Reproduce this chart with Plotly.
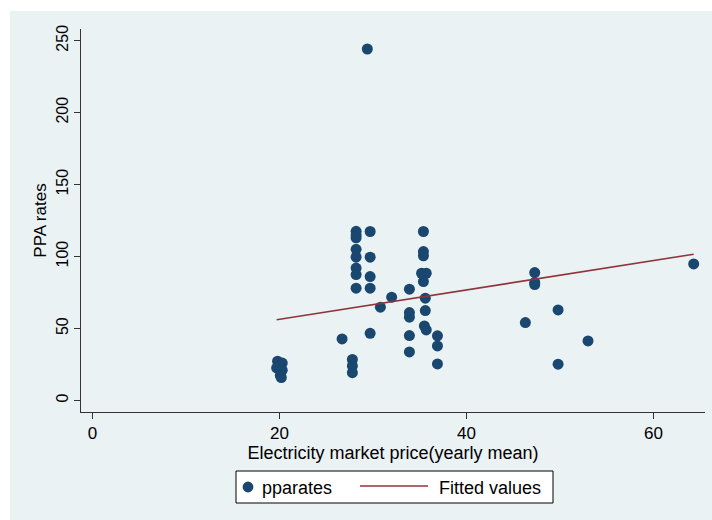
import plotly.graph_objects as go

# Yearly mean electricity market price vs. PPA rate, one point per contract
market_price = [
    19.8, 20.3, 19.7, 20.3, 20.1, 20.2,
    27.8, 27.8, 27.8, 26.7,
    28.2, 28.2, 28.2, 28.2, 28.2, 28.2, 28.2, 28.2,
    29.7, 29.7, 29.7, 29.7, 29.7, 29.4,
    30.8, 32.0,
    33.9, 33.9, 33.9, 33.9, 33.9,
    35.4, 35.4, 35.4, 35.2, 35.7, 35.4, 35.6, 35.6, 35.5, 35.7,
    36.9, 36.9, 36.9,
    47.3, 47.3, 47.3, 46.3, 49.8, 49.8, 53.0, 64.3,
]
ppa_rates = [
    27.3, 26.0, 22.6, 21.0, 17.4, 15.9,
    28.5, 24.0, 19.3, 42.8,
    117.5, 115.0, 113.0, 105.0, 99.6, 92.0, 87.5, 78.0,
    117.4, 99.6, 86.1, 78.0, 46.7, 244.2,
    64.8, 71.8,
    77.3, 61.1, 57.9, 45.1, 33.7,
    117.4, 103.5, 100.5, 88.4, 88.4, 82.6, 71.1, 62.5, 51.8, 49.0,
    44.9, 37.9, 25.4,
    88.9, 82.0, 80.5, 54.1, 62.9, 25.2, 41.4, 94.9,
]

# Linear fit (fitted values at the ends of the price range)
fit_x = [19.7, 64.3]
fit_y = [56.1, 101.6]

x_ticks = [0, 20, 40, 60]
y_ticks = [0, 50, 100, 150, 200, 250]
legend_labels = ["pparates", "Fitted values"]

NAVY = "#1A476F"
MAROON = "#90353B"
REGION = "#EAF2F3"
FONT = "Liberation Sans, Arial, sans-serif"

# plot area geometry in pixels, used to place the key below the axes
W, H = 712, 520
L, R, T, B = 81, 7, 29, 108
PW, PH = W - L - R, H - T - B


def px(xp):
    return (xp - L) / PW


def py(yp):
    return (H - B - yp) / PH


fig = go.Figure()
fig.add_trace(go.Scatter(
    x=market_price, y=ppa_rates, mode="markers", name=legend_labels[0],
    marker=dict(color=NAVY, size=11, line=dict(width=0)),
))
fig.add_trace(go.Scatter(
    x=fit_x, y=fit_y, mode="lines", name=legend_labels[1],
    line=dict(color=MAROON, width=1.6),
))

# Graph region background (plot area stays white on top of it)
fig.add_shape(type="rect", xref="paper", yref="paper",
              x0=px(10), x1=px(730), y0=py(540), y1=py(11),
              fillcolor=REGION, line=dict(width=0), layer="below")

# Key: framed box with a marker sample and a line sample
fig.add_shape(type="rect", xref="paper", yref="paper",
              x0=px(236), x1=px(553), y0=py(503), y1=py(471),
              fillcolor="white", line=dict(color="#000000", width=1))
fig.add_shape(type="circle", xref="paper", yref="paper",
              xsizemode="pixel", ysizemode="pixel",
              xanchor=px(248), yanchor=py(487),
              x0=-5.4, x1=5.4, y0=-5.4, y1=5.4,
              fillcolor=NAVY, line=dict(width=0))
fig.add_shape(type="line", xref="paper", yref="paper",
              x0=px(360), x1=px(428), y0=py(486), y1=py(486),
              line=dict(color=MAROON, width=1.6))
fig.add_annotation(text=legend_labels[0], xref="paper", yref="paper",
                   x=px(260), y=py(488), xanchor="left", yanchor="middle",
                   showarrow=False, font=dict(size=18, family=FONT, color="#000000"))
fig.add_annotation(text=legend_labels[1], xref="paper", yref="paper",
                   x=px(437), y=py(488), xanchor="left", yanchor="middle",
                   showarrow=False, font=dict(size=18, family=FONT, color="#000000"))

fig.update_layout(
    width=W, height=H,
    margin=dict(l=L, r=R, t=T, b=B),
    paper_bgcolor="white", plot_bgcolor="white",
    font=dict(family=FONT, color="#000000"),
    showlegend=False,
)
fig.update_xaxes(
    range=[-1.22, 65.51], tickvals=x_ticks, ticks="outside", ticklen=6,
    tickcolor="#333333", showline=True, linecolor="#333333", linewidth=1,
    showgrid=False, zeroline=False, tickfont=dict(size=17),
    title=dict(text="Electricity market price(yearly mean)",
               font=dict(size=18), standoff=2),
)
fig.update_yaxes(
    range=[-8.0, 258.1], tickvals=y_ticks, ticks="outside", ticklen=6,
    tickcolor="#333333", showline=True, linecolor="#333333", linewidth=1,
    showgrid=True, gridcolor=REGION, gridwidth=1.5, zeroline=False,
    tickangle=-90, tickfont=dict(size=16),
    title=dict(text="PPA rates", font=dict(size=17), standoff=2),
)

fig.write_html("out.html")
